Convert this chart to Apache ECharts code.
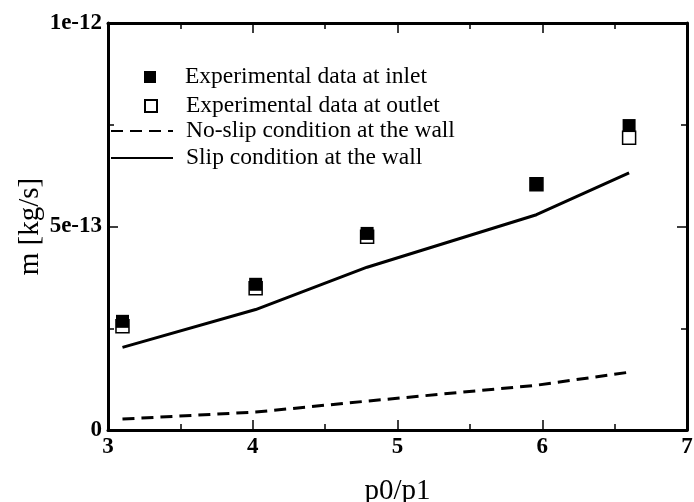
<!DOCTYPE html>
<html>
<head>
<meta charset="utf-8">
<script src="https://cdn.jsdelivr.net/npm/echarts@6/dist/echarts.min.js"></script>
<style>html,body{margin:0;padding:0;background:#fff}#c{width:694px;height:502px}</style>
</head>
<body>
<div id="c"></div>
<script>
const ratio = [3.1, 4.02, 4.79, 5.96, 6.6];
const inlet = [2.67e-13, 3.58e-13, 4.83e-13, 6.04e-13, 7.48e-13];
const outlet = [2.55e-13, 3.48e-13, 4.75e-13, 6.04e-13, 7.18e-13];
const noSlip = [0.27e-13, 0.44e-13, 0.71e-13, 1.10e-13, 1.42e-13];
const slip = [2.03e-13, 2.96e-13, 4.00e-13, 5.29e-13, 6.32e-13];
const names = ['Experimental data at inlet', 'Experimental data at outlet', 'No-slip condition at the wall', 'Slip condition at the wall'];

const pair = (xs, ys) => xs.map((x, i) => [x, ys[i]]);
const serif = 'Liberation Serif, Times New Roman, serif';
const legTxt = {fontFamily: serif, fontSize: 23.5, color: '#000'};

const chart = echarts.init(document.getElementById('c'));
const axisLine = {show: true, onZero: false, lineStyle: {color: '#000', width: 3}};
const tick = {show: true, inside: true, length: 10, lineStyle: {color: '#000', width: 1.5}};
const minor = {show: true, splitNumber: 2, length: 6, lineStyle: {color: '#000', width: 1.5}};
const tickLbl = {fontFamily: serif, fontSize: 23, fontWeight: 'bold', color: '#000', margin: 6};
chart.setOption({
  animation: false,
  grid: {left: 108, right: 7, top: 23, bottom: 72, containLabel: false, outerBoundsMode: 'none'},
  xAxis: [{
    type: 'value', min: 3, max: 7, interval: 1, position: 'bottom',
    name: 'p0/p1', nameLocation: 'middle', nameGap: 47, nameMoveOverlap: false,
    nameTextStyle: {fontFamily: serif, fontSize: 29, color: '#000'},
    axisLine, axisTick: tick, minorTick: minor, splitLine: {show: false},
    axisLabel: tickLbl
  }, {
    type: 'value', min: 3, max: 7, interval: 1, position: 'top',
    axisLine, axisTick: tick, minorTick: minor, splitLine: {show: false}, axisLabel: {show: false}
  }],
  yAxis: [{
    type: 'value', min: 0, max: 1e-12, interval: 5e-13, position: 'left',
    name: 'm [kg/s]', nameLocation: 'middle', nameGap: 63, nameRotate: 90, nameMoveOverlap: false,
    nameTextStyle: {fontFamily: serif, fontSize: 29, color: '#000'},
    axisLine, axisTick: tick, minorTick: minor, splitLine: {show: false},
    axisLabel: Object.assign({formatter: v => v === 0 ? '0' : Number(v).toExponential(0)}, tickLbl)
  }, {
    type: 'value', min: 0, max: 1e-12, interval: 5e-13, position: 'right',
    axisLine, axisTick: tick, minorTick: minor, splitLine: {show: false}, axisLabel: {show: false}
  }],
  legend: [
    {data: [names[0]], left: 139, top: 60, itemWidth: 12, itemHeight: 12, icon: 'rect', textStyle: Object.assign({padding: [0, 0, 0, 24]}, legTxt)},
    {data: [names[1]], left: 139, top: 89, itemWidth: 12, itemHeight: 12, icon: 'rect', textStyle: Object.assign({padding: [0, 0, 0, 24]}, legTxt)},
    {data: [names[2]], left: 105, top: 114, itemWidth: 62, itemHeight: 14, itemStyle: {opacity: 0}, textStyle: Object.assign({padding: [0, 0, 0, 8]}, legTxt)},
    {data: [names[3]], left: 105, top: 141, itemWidth: 62, itemHeight: 14, itemStyle: {opacity: 0}, textStyle: Object.assign({padding: [0, 0, 0, 8]}, legTxt)}
  ],
  series: [
    {name: names[1], type: 'scatter', symbol: 'rect', symbolSize: 13, data: pair(ratio, outlet),
      itemStyle: {color: '#fff', borderColor: '#000', borderWidth: 1.5, opacity: 1}},
    {name: names[0], type: 'scatter', symbol: 'rect', symbolSize: 13, data: pair(ratio, inlet),
      itemStyle: {color: '#000', opacity: 1}},
    {name: names[2], type: 'line', showSymbol: false, symbol: 'none', data: pair(ratio, noSlip),
      lineStyle: {color: '#000', width: 3, type: [12, 7]}, itemStyle: {color: '#000'}},
    {name: names[3], type: 'line', showSymbol: false, symbol: 'none', data: pair(ratio, slip),
      lineStyle: {color: '#000', width: 3}, itemStyle: {color: '#000'}}
  ]
});
</script>
</body>
</html>
